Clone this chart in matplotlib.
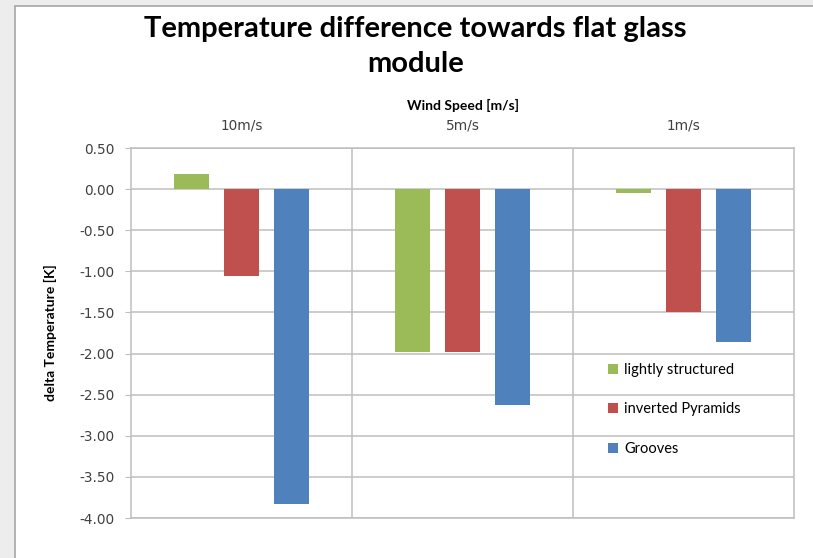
import matplotlib

matplotlib.use("Agg")
import matplotlib.pyplot as plt
import numpy as np
from matplotlib.patches import Rectangle

# data
speeds = ["10m/s", "5m/s", "1m/s"]
series = ["lightly structured", "inverted Pyramids", "Grooves"]
lightly = [0.18, -1.98, -0.05]
pyramids = [-1.06, -1.98, -1.50]
grooves = [-3.83, -2.62, -1.86]
yticks = [0.5, 0.0, -0.5, -1.0, -1.5, -2.0, -2.5, -3.0, -3.5, -4.0]

COLORS = ["#9BBB59", "#C0504D", "#4F81BD"]
GRID = "#BEBEBE"

fig = plt.figure(figsize=(8.13, 5.58), dpi=100, facecolor="#EDEDED")
# white chart area with a thin gray frame, kept behind the axes
fig.patches.append(
    Rectangle((15 / 813, -0.05), 1.1, 1 - 6 / 558 + 0.05,
              transform=fig.transFigure, facecolor="white",
              edgecolor="#A6A6A6", linewidth=1.2, zorder=-5)
)

ax = fig.add_axes([131 / 813, 1 - 518 / 558, (794 - 131) / 813, (518 - 148) / 558])
ax.set_zorder(2)
ax.patch.set_alpha(0)
x = np.arange(len(speeds))
w = 0.155
step = 0.226
for i, (vals, name) in enumerate(zip((lightly, pyramids, grooves), series)):
    ax.bar(x + (i - 1) * step, vals, width=w, color=COLORS[i], label=name, zorder=3)

ax.set_xlim(-0.5, 2.5)
ax.set_ylim(-4.0, 0.5)
ax.set_yticks(yticks)
ax.set_yticklabels([f"{v:.2f}" for v in yticks], fontsize=9.8, color="#404040")
ax.yaxis.grid(True, color=GRID, linewidth=1.1, zorder=0)
for b in (0.5, 1.5):
    ax.axvline(b, color=GRID, linewidth=1.1, zorder=0)

ax.xaxis.tick_top()
ax.xaxis.set_label_position("top")
ax.set_xticks(x)
ax.set_xticklabels(speeds, fontsize=9.8, color="#404040")
ax.tick_params(axis="x", length=0, pad=11)
ax.tick_params(axis="y", length=4, color=GRID, pad=8)
ax.set_xlabel("Wind Speed [m/s]", fontsize=10, fontweight="bold",
              family=["Lato", "DejaVu Sans"], labelpad=6)
ax.set_ylabel("delta Temperature [K]", fontsize=10, fontweight="bold",
              family=["Lato", "DejaVu Sans"], labelpad=16)
for s in ax.spines.values():
    s.set_color(GRID)
    s.set_linewidth(1.1)

leg = ax.legend(loc="upper left", bbox_to_anchor=(0.70, 0.455), frameon=False,
                prop={"family": ["Lato", "DejaVu Sans"], "size": 10.5},
                handlelength=0.7, handleheight=0.7, handletextpad=0.4,
                labelspacing=1.75)

fig.text(0.511, 0.971, "Temperature difference towards flat glass\nmodule",
         ha="center", va="top", fontsize=21, fontweight="bold",
         family=["Lato", "DejaVu Sans"], linespacing=1.4)

fig.savefig("out.png", dpi=100, facecolor=fig.get_facecolor())
